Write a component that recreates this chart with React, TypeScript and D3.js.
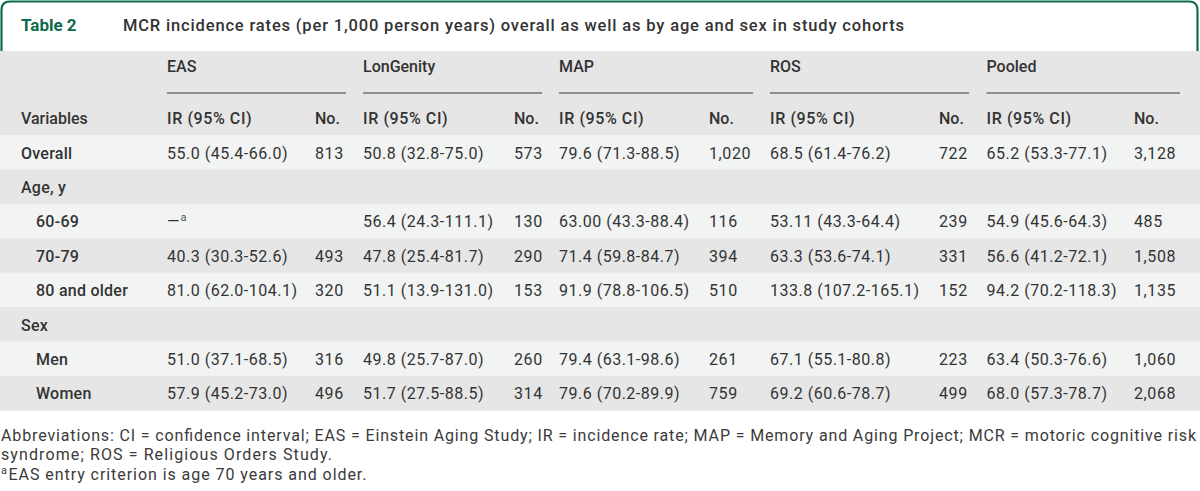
import React from "react";
import * as d3 from "d3";

// ---------- data ----------
const tableNumber = "Table 2";
const tableTitle =
  "MCR incidence rates (per 1,000 person years) overall as well as by age and sex in study cohorts";
const cohorts = ["EAS", "LonGenity", "MAP", "ROS", "Pooled"];
const subHeaders = ["IR (95% CI)", "No."];
const firstHeader = "Variables";
const rowLabels = ["Overall", "Age, y", "60-69", "70-79", "80 and older", "Sex", "Men", "Women"];
const sectionRows = ["Overall", "Age, y", "Sex"];

const easIR = ["55.0 (45.4-66.0)", "", "—", "40.3 (30.3-52.6)", "81.0 (62.0-104.1)", "", "51.0 (37.1-68.5)", "57.9 (45.2-73.0)"];
const easNo = ["813", "", "", "493", "320", "", "316", "496"];
const lonIR = ["50.8 (32.8-75.0)", "", "56.4 (24.3-111.1)", "47.8 (25.4-81.7)", "51.1 (13.9-131.0)", "", "49.8 (25.7-87.0)", "51.7 (27.5-88.5)"];
const lonNo = ["573", "", "130", "290", "153", "", "260", "314"];
const mapIR = ["79.6 (71.3-88.5)", "", "63.00 (43.3-88.4)", "71.4 (59.8-84.7)", "91.9 (78.8-106.5)", "", "79.4 (63.1-98.6)", "79.6 (70.2-89.9)"];
const mapNo = ["1,020", "", "116", "394", "510", "", "261", "759"];
const rosIR = ["68.5 (61.4-76.2)", "", "53.11 (43.3-64.4)", "63.3 (53.6-74.1)", "133.8 (107.2-165.1)", "", "67.1 (55.1-80.8)", "69.2 (60.6-78.7)"];
const rosNo = ["722", "", "239", "331", "152", "", "223", "499"];
const poolIR = ["65.2 (53.3-77.1)", "", "54.9 (45.6-64.3)", "56.6 (41.2-72.1)", "94.2 (70.2-118.3)", "", "63.4 (50.3-76.6)", "68.0 (57.3-78.7)"];
const poolNo = ["3,128", "", "485", "1,508", "1,135", "", "1,060", "2,068"];
const footnoteMark = "a";
const easFootRow = "60-69";

const abbreviations1 =
  "Abbreviations: CI = confidence interval; EAS = Einstein Aging Study; IR = incidence rate; MAP = Memory and Aging Project; MCR = motoric cognitive risk";
const abbreviations2 = "syndrome; ROS = Religious Orders Study.";
const footnoteA = "EAS entry criterion is age 70 years and older.";

// ---------- layout ----------
const W = 1200;
const H = 491;
const GREEN = "#0d6c4a";
const TEXT = "#333333";
const DARK = "#e6e6e6";
const LIGHT = "#f2f3f3";
const FONT = "Roboto, 'Open Sans', sans-serif";

const irCols = [easIR, lonIR, mapIR, rosIR, poolIR];
const noCols = [easNo, lonNo, mapNo, rosNo, poolNo];

const groupX = d3.scaleOrdinal<string, number>().domain(cohorts).range([167, 363, 559, 770, 986.5]);
const noX = d3.scaleOrdinal<string, number>().domain(cohorts).range([315, 514, 709, 939, 1134]);
const groupEnd = d3.scaleOrdinal<string, number>().domain(cohorts).range([346, 542, 753, 969, 1180]);

const rowY = d3.scaleBand<string>().domain(rowLabels).range([135, 410.2]).padding(0);

export default function App() {
  const bh = rowY.bandwidth();
  return (
    <svg
      width={W}
      height={H}
      viewBox={`0 0 ${W} ${H}`}
      style={{ position: "absolute", left: 0, top: 0, display: "block", background: "#fff" }}
      fontFamily={FONT}
    >
      {/* header tab */}
      <path
        d={`M1.5,51 L1.5,10 Q1.5,1.5 10,1.5 L1189,1.5 Q1197.5,1.5 1197.5,10 L1197.5,51`}
        fill="none"
        stroke={GREEN}
        strokeWidth={2.2}
      />
      <text x={21} y={31} fontSize={17} fontWeight={700} fill={GREEN}>
        {tableNumber}
      </text>
      <text x={123} y={31} fontSize={16.5} fontWeight={500} fill={TEXT} textLength={781} lengthAdjust="spacing">
        {tableTitle}
      </text>

      {/* header band */}
      <rect x={0} y={51} width={W} height={rowY(rowLabels[0])! - 51} fill={DARK} />
      {cohorts.map((c) => (
        <g key={c}>
          <text x={groupX(c)} y={72} fontSize={16} fontWeight={500} fill={TEXT}>
            {c}
          </text>
          <line x1={groupX(c)} x2={groupEnd(c)} y1={93} y2={93} stroke="#707070" strokeWidth={1.3} />
          <text x={groupX(c)} y={124} fontSize={16} fontWeight={500} fill={TEXT} letterSpacing={0.6}>
            {subHeaders[0]}
          </text>
          <text x={noX(c)} y={124} fontSize={16} fontWeight={500} fill={TEXT}>
            {subHeaders[1]}
          </text>
        </g>
      ))}
      <text x={21} y={124} fontSize={16} fontWeight={500} fill={TEXT}>
        {firstHeader}
      </text>

      {/* body rows */}
      {rowLabels.map((r, i) => {
        const y0 = rowY(r)!;
        const base = y0 + 23.5;
        const indent = sectionRows.includes(r) ? 21 : 36;
        return (
          <g key={r}>
            <rect x={0} y={y0} width={W} height={bh + 0.5} fill={i % 2 === 0 ? LIGHT : DARK} />
            <text x={indent} y={base} fontSize={16} fontWeight={500} fill={TEXT} letterSpacing={0.25}>
              {r}
            </text>
            {cohorts.map((c, ci) => (
              <g key={c}>
                {ci === 0 && r === easFootRow ? (
                  <text x={groupX(c)} y={base} fontSize={16} fontWeight={400} fill={TEXT}>
                    {irCols[ci][i]}
                    <tspan fontSize={11} dx={1} dy={-6} fill="#555">
                      {footnoteMark}
                    </tspan>
                  </text>
                ) : (
                  <text x={groupX(c)} y={base} fontSize={16} fontWeight={400} fill={TEXT} letterSpacing={0.5}>
                    {irCols[ci][i]}
                  </text>
                )}
                <text x={noX(c)} y={base} fontSize={16} fontWeight={400} fill={TEXT} letterSpacing={0.6}>
                  {noCols[ci][i]}
                </text>
              </g>
            ))}
          </g>
        );
      })}

      {/* footnotes */}
      <text x={1} y={440.5} fontSize={16} fontWeight={400} fill="#3a3a3a" textLength={1195} lengthAdjust="spacing">
        {abbreviations1}
      </text>
      <text x={1} y={460} fontSize={16} fontWeight={400} fill="#3a3a3a" textLength={331} lengthAdjust="spacing">
        {abbreviations2}
      </text>
      <text x={1} y={480} fontSize={11} fontWeight={400} fill="#3a3a3a" dy={-6}>
        {footnoteMark}
      </text>
      <text x={8.5} y={480} fontSize={16} fontWeight={400} fill="#3a3a3a" textLength={358} lengthAdjust="spacing">
        {footnoteA}
      </text>
    </svg>
  );
}
